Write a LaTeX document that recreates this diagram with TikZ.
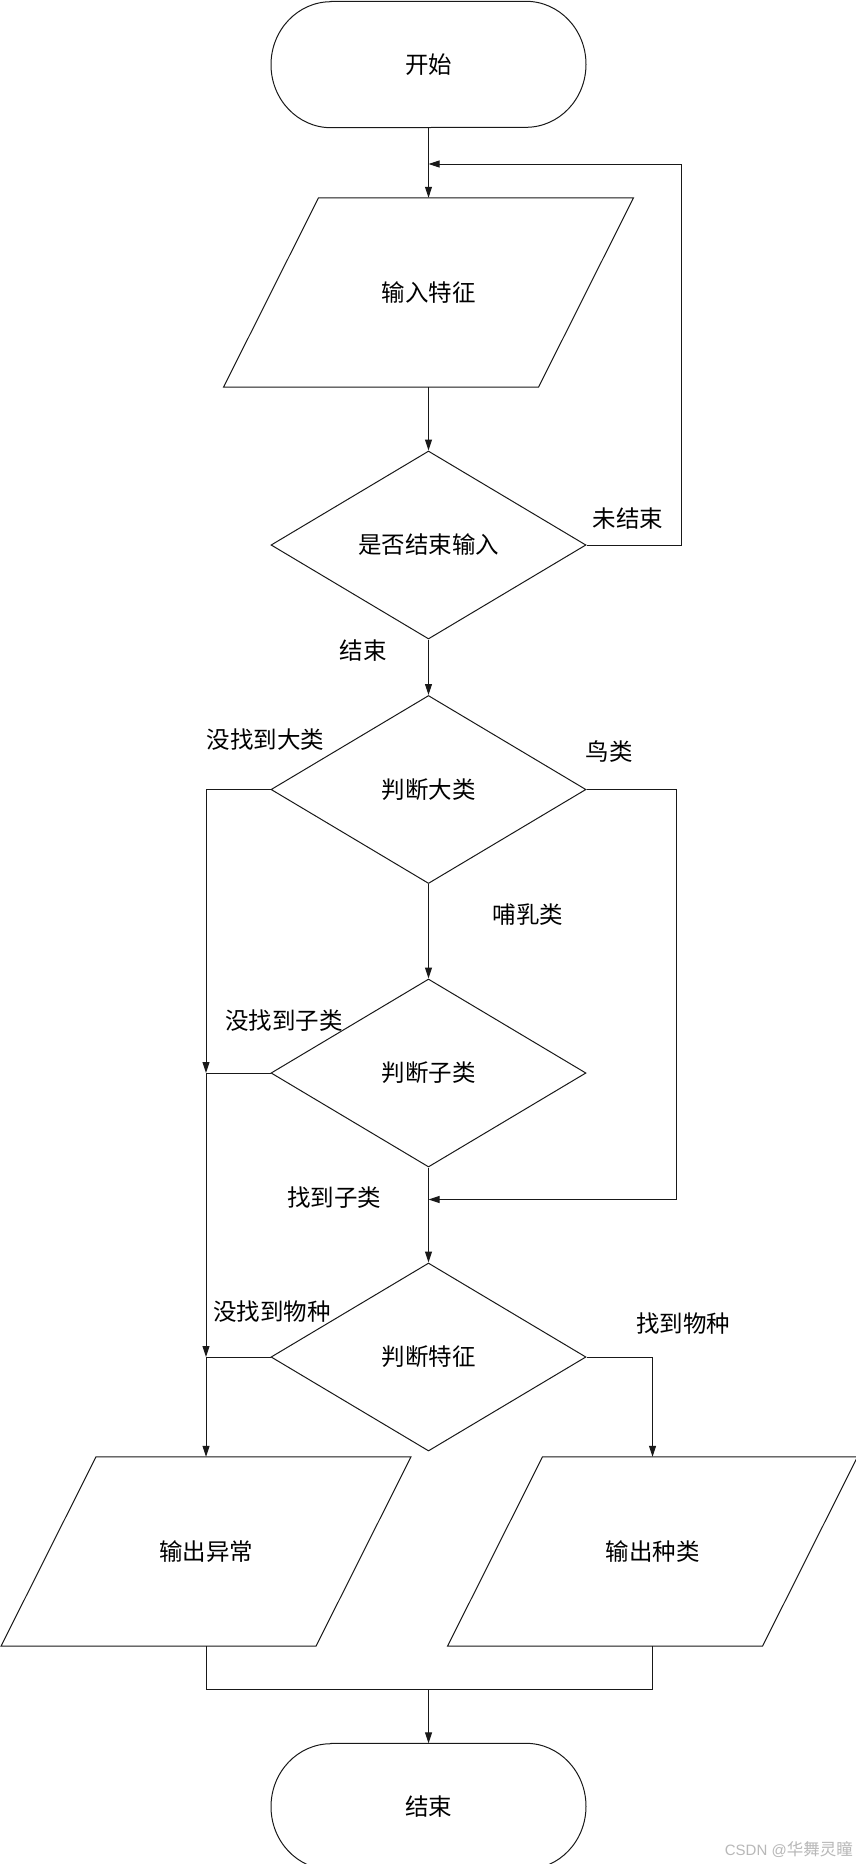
\documentclass[tikz,border=0pt]{standalone}
\usepackage{fontspec}
\newfontfamily\cjk{Noto Sans CJK SC}
\newfontfamily\wmlatin{Liberation Sans}
\usetikzlibrary{shapes.geometric,arrows.meta}
\newcommand\termpath[1]{%
  \draw[ln] ([xshift=-97.5pt]#1.north) -- ([xshift=97.5pt]#1.north)
    arc[start angle=90,end angle=-90,x radius=60pt,y radius=63pt]
    -- ([xshift=-97.5pt]#1.south)
    arc[start angle=270,end angle=90,x radius=60pt,y radius=63pt] -- cycle;}
\newcommand\parapath[1]{%
  \draw[ln] ([xshift=-110pt]#1.north) -- ([xshift=205pt]#1.north)
    -- ([xshift=110pt]#1.south) -- ([xshift=-205pt]#1.south) -- cycle;}
\begin{document}
\begin{tikzpicture}[x=1pt,y=-1pt,
  every node/.style={font=\cjk\fontsize{23.5pt}{28pt}\selectfont, inner sep=0pt, text=black},
  ln/.style={draw=black!90, line width=1pt},
  arr/.style={ln, -{Triangle[length=11pt,width=7pt]}},
  dec/.style={diamond, draw=black!90, line width=1pt, minimum width=315pt, minimum height=188pt},
  termbox/.style={minimum width=315pt, minimum height=126pt},
  iobox/.style={minimum width=220pt, minimum height=189pt},
  lbl/.style={},
  wm/.style={font=\cjk\fontsize{16.5pt}{18pt}\selectfont, text=black!28}]
\fill[white] (0,0) rectangle (856,1864);
\useasboundingbox (0,0) rectangle (856,1864);

% nodes
\node[termbox] (start) at (428.5,64.5) {开始};
\node[iobox] (p1) at (428.5,292.5) {输入特征};
\node[dec] (d1) at (428.5,545) {是否结束输入};
\node[dec] (d2) at (428.5,789.5) {判断大类};
\node[dec] (d3) at (428.5,1073) {判断子类};
\node[dec] (d4) at (428.5,1357) {判断特征};
\node[iobox] (pL) at (206,1551.5) {输出异常};
\node[iobox] (pR) at (652.5,1551.5) {输出种类};
\node[termbox] (end) at (428.5,1806.5) {结束};

\termpath{start}
\termpath{end}
\parapath{p1}
\parapath{pL}
\parapath{pR}

% helper coordinates
\coordinate (fb) at (681,164);
\coordinate (bird) at (676.5,1199.5);
\coordinate (m) at (428.5,1689);

% connectors
\draw[arr] (start.south) -- (p1.north);
\draw[arr] (d1.east) -| (fb) -- (fb -| p1.north);
\draw[arr] (p1.south) -- (d1.north);
\draw[arr] (d1.south) -- (d2.north);
\draw[arr] (d2.west) -| (d3.west -| pL.north);
\draw[arr] (d2.east) -| (bird) -- (bird -| d3.south);
\draw[arr] (d2.south) -- (d3.north);
\draw[ln] (d3.west) -- (d3.west -| pL.north);
\draw[arr] (d3.west -| pL.north) -- (d4.west -| pL.north);
\draw[arr] (d3.south) -- (d4.north);
\draw[ln] (d4.west) -- (d4.west -| pL.north);
\draw[arr] (d4.west -| pL.north) -- (pL.north);
\draw[arr] (d4.east) -| (pR.north);
\draw[ln] (pL.south) |- (m) -| (pR.south);
\draw[arr] (m) -- (end.north);

% labels
\node[lbl] (l1) at (628,519) {未结束};
\node[lbl] (l2) at (363,651) {结束};
\node[lbl] (l3) at (265.5,739.5) {没找到大类};
\node[lbl] (l4) at (609,752) {鸟类};
\node[lbl] (l5) at (528,915) {哺乳类};
\node[lbl] (l6) at (284,1021) {没找到子类};
\node[lbl] (l7) at (334,1197.5) {找到子类};
\node[lbl] (l8) at (272,1311.5) {没找到物种};
\node[lbl] (l9) at (683,1324) {找到物种};
\node[wm, anchor=east] (wmk) at (853,1850) {{\wmlatin\fontsize{15pt}{18pt}\selectfont CSDN @}华舞灵瞳};
\end{tikzpicture}
\end{document}
